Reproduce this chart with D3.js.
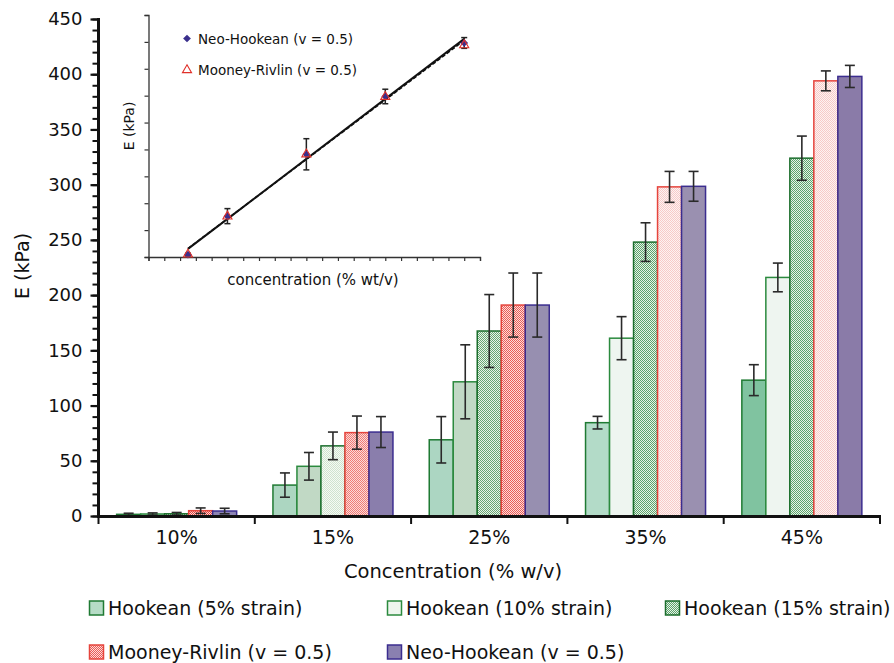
<!DOCTYPE html>
<html>
<head>
<meta charset="utf-8">
<script src="https://cdn.jsdelivr.net/npm/d3@7"></script>
<style>
  body { margin: 0; background: #fff; }
  text { font-family: "DejaVu Sans", Verdana, sans-serif; fill: #111; }
</style>
</head>
<body>
<div id="chart"></div>
<script>
// values (kPa)
const groups = ["10%", "15%", "25%", "35%", "45%"];
const concentrations = [10, 15, 25, 35, 45];
const seriesNames = [
    "Hookean (5% strain)",
    "Hookean (10% strain)",
    "Hookean (15% strain)",
    "Mooney-Rivlin (v = 0.5)",
    "Neo-Hookean (v = 0.5)"
];
const hooke5 = [1.5, 28, 69, 84.5, 123];
const hooke5Err = [1, 11, 21, 5.7, 14];
const hooke10 = [1.8, 45, 121.5, 161, 216];
const hooke10Err = [1, 12.5, 33.5, 19.5, 13];
const hooke15 = [2, 63.5, 167.5, 248, 324];
const hooke15Err = [1.2, 12.5, 33, 17.5, 20];
const mooney = [4.8, 75.5, 191, 298, 394];
const mooneyErr = [2.5, 15, 29, 14, 9];
const neo = [4.5, 76, 191, 298.5, 398];
const neoErr = [2.5, 14, 29, 13.5, 10];
const yTicks = [0, 50, 100, 150, 200, 250, 300, 350, 400, 450];

const seriesValues = [hooke5, hooke10, hooke15, mooney, neo];
const seriesErrors = [hooke5Err, hooke10Err, hooke15Err, mooneyErr, neoErr];

// styling: the original figure tints each group a little differently
const barStroke = ["#1f7a33", "#2b8a3e", "#1b6e2c", "#e6443c", "#3b2d8f"];
const barFill = [
    ["#a9d4bf", "#acd6c1", "#acd6c2", "#b3dbc8", "#80c3a0"],
    ["#c0d8c4", "#c1d9c5", "#c1d9c5", "#eef5f0", "#eef5f0"],
    [{bg: "#e0eee0", dot: "#3f8a50"}, {bg: "#f6faf4", dot: "#cfe3cf"}, {bg: "#eaf3ea", dot: "#66a673"},
     {bg: "#e8f2e8", dot: "#5ba46c"}, {bg: "#e8f2e8", dot: "#5ba46c"}],
    [{bg: "#fbd8d6", dot: "#e2403a"}, {bg: "#fcdad8", dot: "#ef7c76"}, {bg: "#fcdcda", dot: "#ea5c56"},
     {bg: "#fdf3f2", dot: "#f7cac8"}, {bg: "#fdf3f2", dot: "#f7cac8"}],
    ["#8c84b4", "#8a7eac", "#978fb0", "#9a90b0", "#8a7ba8"]
];
const legendFill = ["#b6dcc6", "#eef6ee", {bg: "#e8f2e8", dot: "#5ba46c"}, {bg: "#fcdcda", dot: "#ea5c56"}, "#8a80b0"];

const width = 894, height = 663;
const svg = d3.select("#chart").append("svg")
    .attr("width", width)
    .attr("height", height);
const defs = svg.append("defs");

var patternCount = 0;
function fillFor(spec) {
    if (typeof spec === "string") return spec;
    var id = "pat" + (patternCount++);
    var p = defs.append("pattern")
        .attr("id", id)
        .attr("patternUnits", "userSpaceOnUse")
        .attr("width", 2).attr("height", 2);
    p.append("rect").attr("width", 2).attr("height", 2).attr("fill", spec.bg);
    p.append("rect").attr("width", 1).attr("height", 1).attr("fill", spec.dot);
    p.append("rect").attr("x", 1).attr("y", 1).attr("width", 1).attr("height", 1).attr("fill", spec.dot);
    return "url(#" + id + ")";
}

// ---------- main chart ----------
const x0 = d3.scaleBand().domain(groups).range([98.5, 880]).padding(0);
const x1 = d3.scaleBand().domain(d3.range(seriesNames.length))
    .range([0, x0.bandwidth()]).paddingInner(0).paddingOuter(0.756);
const y = d3.scaleLinear().domain([0, 450]).range([516, 19]);

const bars = [];
groups.forEach(function(g, gi) {
    seriesValues.forEach(function(vals, si) {
        bars.push({group: g, gi: gi, si: si, value: vals[gi], err: seriesErrors[si][gi]});
    });
});

svg.append("g").selectAll("rect")
    .data(bars)
    .join("rect")
    .attr("x", function(d) { return x0(d.group) + x1(d.si); })
    .attr("y", function(d) { return y(d.value); })
    .attr("width", x1.bandwidth())
    .attr("height", function(d) { return y(0) - y(d.value); })
    .attr("fill", function(d) { return fillFor(barFill[d.si][d.gi]); })
    .attr("stroke", function(d) { return barStroke[d.si]; })
    .attr("stroke-width", 1.5);

// error bars
const errG = svg.append("g").attr("stroke", "#2a2a2a").attr("stroke-width", 1.6);
bars.forEach(function(d) {
    var cx = x0(d.group) + x1(d.si) + x1.bandwidth() / 2;
    var top = y(d.value + d.err), bot = y(Math.max(0, d.value - d.err));
    errG.append("line").attr("x1", cx).attr("x2", cx).attr("y1", top).attr("y2", bot);
    errG.append("line").attr("x1", cx - 5).attr("x2", cx + 5).attr("y1", top).attr("y2", top);
    errG.append("line").attr("x1", cx - 5).attr("x2", cx + 5).attr("y1", bot).attr("y2", bot);
});

// y axis with minor ticks
const yAxis = svg.append("g").attr("transform", "translate(98.5,0)");
yAxis.call(d3.axisLeft(y).tickValues(d3.range(0, 451, 10)).tickSize(4).tickFormat(""))
    .call(function(g) { g.select(".domain").remove(); });
yAxis.selectAll(".tick line").attr("x2", 0).attr("x1", -6).attr("stroke", "#111").attr("stroke-width", 2);
const yMajor = svg.append("g").attr("transform", "translate(98.5,0)");
yMajor.call(d3.axisLeft(y).tickValues(yTicks).tickSize(8).tickPadding(8))
    .call(function(g) { g.select(".domain").remove(); });
yMajor.selectAll(".tick line").attr("stroke", "#111").attr("stroke-width", 2.2);
yMajor.selectAll(".tick text").style("font-size", "18px").attr("fill", "#111");
svg.append("line").attr("x1", 98.5).attr("x2", 98.5).attr("y1", 18).attr("y2", 517)
    .attr("stroke", "#111").attr("stroke-width", 3);

// x axis with ticks at group boundaries
svg.append("line").attr("x1", 97).attr("x2", 881).attr("y1", 516.5).attr("y2", 516.5)
    .attr("stroke", "#111").attr("stroke-width", 3);
const bounds = groups.map(function(g) { return x0(g); }).concat([x0(groups[groups.length - 1]) + x0.bandwidth()]);
svg.append("g").selectAll("line")
    .data(bounds)
    .join("line")
    .attr("x1", function(d) { return d; }).attr("x2", function(d) { return d; })
    .attr("y1", 516).attr("y2", 524)
    .attr("stroke", "#111").attr("stroke-width", 2);
svg.append("g").selectAll("text")
    .data(groups)
    .join("text")
    .attr("x", function(d) { return x0(d) + x0.bandwidth() / 2; })
    .attr("y", 544)
    .attr("text-anchor", "middle")
    .style("font-size", "19px")
    .text(function(d) { return d; });

svg.append("text")
    .attr("x", 453).attr("y", 578)
    .attr("text-anchor", "middle")
    .style("font-size", "19.5px")
    .text("Concentration (% w/v)");
svg.append("text")
    .attr("transform", "translate(29,266) rotate(-90)")
    .attr("text-anchor", "middle")
    .style("font-size", "19px")
    .text("E (kPa)");

// legend
const legendPos = [[89, 608], [387, 608], [665, 608], [89, 652], [387, 652]];
const legend = svg.append("g").selectAll("g")
    .data(seriesNames)
    .join("g")
    .attr("transform", function(d, i) { return "translate(" + legendPos[i][0] + "," + legendPos[i][1] + ")"; });
legend.append("rect")
    .attr("x", 0.5).attr("y", -7).attr("width", 14).attr("height", 14)
    .attr("fill", function(d, i) { return fillFor(legendFill[i]); })
    .attr("stroke", function(d, i) { return barStroke[i]; })
    .attr("stroke-width", 1.5);
legend.append("text")
    .attr("x", 19).attr("y", 7)
    .style("font-size", "19px")
    .text(function(d) { return d; });

// ---------- inset ----------
const ix = d3.scaleLinear().domain([5, 47]).range([148.5, 480]);
const iy = d3.scaleLinear().domain([0, 450]).range([257, 15]);
const inset = svg.append("g");

inset.append("g").attr("transform", "translate(0,257)")
    .call(d3.axisBottom(ix).tickValues(d3.range(5, 48, 2)).tickSize(4).tickFormat(""))
    .call(function(g) {
        g.select(".domain").attr("stroke", "#333").attr("stroke-width", 1.3);
        g.selectAll(".tick line").attr("stroke", "#333").attr("stroke-width", 1.2);
    });
inset.append("g").attr("transform", "translate(148.5,0)")
    .call(d3.axisLeft(iy).tickValues(yTicks).tickSize(4).tickFormat(""))
    .call(function(g) {
        g.select(".domain").attr("stroke", "#333").attr("stroke-width", 1.3);
        g.selectAll(".tick line").attr("stroke", "#333").attr("stroke-width", 1.2);
    });

inset.append("text")
    .attr("x", 313).attr("y", 285)
    .attr("text-anchor", "middle")
    .style("font-size", "15px")
    .text("concentration (% wt/v)");
inset.append("text")
    .attr("transform", "translate(134,126) rotate(-90)")
    .attr("text-anchor", "middle")
    .style("font-size", "14px")
    .text("E (kPa)");

// least-squares trend lines through the neo-hookean and mooney-rivlin points
function fit(xs, ys) {
    var mx = d3.mean(xs), my = d3.mean(ys);
    var sxy = d3.sum(xs, function(v, i) { return (v - mx) * (ys[i] - my); });
    var sxx = d3.sum(xs, function(v) { return (v - mx) * (v - mx); });
    var slope = sxy / sxx;
    return function(v) { return my + slope * (v - mx); };
}
const ext = d3.extent(concentrations);
const lineGen = d3.line().x(function(d) { return ix(d[0]); }).y(function(d) { return iy(d[1]); });
const fitMooney = fit(concentrations, mooney);
const fitNeo = fit(concentrations, neo);
inset.append("path")
    .attr("d", lineGen(ext.map(function(v) { return [v, fitMooney(v)]; })))
    .attr("stroke", "#111").attr("stroke-width", 1.6).attr("stroke-dasharray", "4,2").attr("fill", "none");
inset.append("path")
    .attr("d", lineGen(ext.map(function(v) { return [v, fitNeo(v)]; })))
    .attr("stroke", "#111").attr("stroke-width", 2).attr("fill", "none");

// inset error bars (neo-hookean)
const iErr = inset.append("g").attr("stroke", "#222").attr("stroke-width", 1.5);
concentrations.forEach(function(c, i) {
    var cx = ix(c), top = iy(neo[i] + neoErr[i]), bot = iy(Math.max(0, neo[i] - neoErr[i]));
    iErr.append("line").attr("x1", cx).attr("x2", cx).attr("y1", top).attr("y2", bot);
    iErr.append("line").attr("x1", cx - 3).attr("x2", cx + 3).attr("y1", top).attr("y2", top);
    iErr.append("line").attr("x1", cx - 3).attr("x2", cx + 3).attr("y1", bot).attr("y2", bot);
});

const diamond = d3.symbol().type(d3.symbolSquare).size(30);
const triangle = d3.symbol().type(d3.symbolTriangle).size(36);
inset.append("g").selectAll("path")
    .data(concentrations)
    .join("path")
    .attr("transform", function(d, i) { return "translate(" + ix(d) + "," + iy(neo[i]) + ") rotate(45)"; })
    .attr("d", diamond)
    .attr("fill", "#3a2f8c");
inset.append("g").selectAll("path")
    .data(concentrations)
    .join("path")
    .attr("transform", function(d, i) { return "translate(" + ix(d) + "," + iy(mooney[i]) + ")"; })
    .attr("d", triangle)
    .attr("fill", "none")
    .attr("stroke", "#e0302a")
    .attr("stroke-width", 1.1);

// inset legend
inset.append("path").attr("transform", "translate(187,38.5) rotate(45)").attr("d", diamond).attr("fill", "#3a2f8c");
inset.append("text").attr("x", 198).attr("y", 43.5).style("font-size", "13.5px").text(seriesNames[4]);
inset.append("path").attr("transform", "translate(187,70)").attr("d", triangle)
    .attr("fill", "none").attr("stroke", "#e0302a").attr("stroke-width", 1.1);
inset.append("text").attr("x", 198).attr("y", 74.5).style("font-size", "13.5px").text(seriesNames[3]);
</script>
</body>
</html>
